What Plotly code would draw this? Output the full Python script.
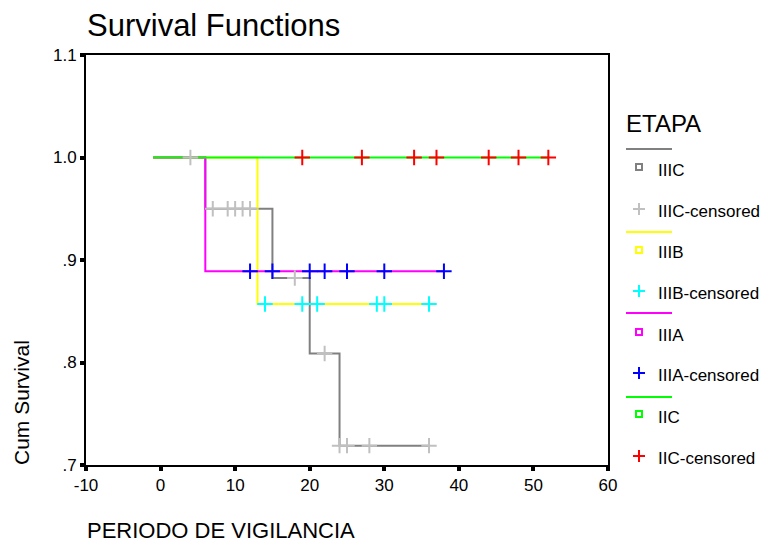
import numpy as np
import plotly.graph_objects as go

# ---------------- data ----------------
groups = ["IIIC", "IIIB", "IIIA", "IIC"]

# step survival curves (time of each step, survival after the step)
iiic_times = [-1, 6, 15, 20, 24, 36]
iiic_surv = [1.0, 0.95, 0.8824, 0.8088, 0.7189, 0.7189]
iiic_cens = [4, 7, 9, 10, 11, 12, 18, 22, 24, 25, 28, 36]

iiib_times = [-1, 13, 36]
iiib_surv = [1.0, 0.857, 0.857]
iiib_cens = [14, 19, 21, 29, 30, 36]

iiia_times = [-1, 6, 38]
iiia_surv = [1.0, 0.889, 0.889]
iiia_cens = [12, 15, 20, 22, 25, 30, 38]

iic_times = [-1, 52]
iic_surv = [1.0, 1.0]
iic_cens = [19, 27, 34, 37, 44, 48, 52]

x_ticks = [-10, 0, 10, 20, 30, 40, 50, 60]
y_ticks = [0.7, 0.8, 0.9, 1.0, 1.1]
y_ticktext = [".7", ".8", ".9", "1.0", "1.1"]

line_colors = ["#808080", "#ffff00", "#ff00ff", "#00ff00"]
cens_colors = ["#c0c0c0", "#00ffff", "#0000ff", "#ff0000"]

series = [
    (iiic_times, iiic_surv, iiic_cens),
    (iiib_times, iiib_surv, iiib_cens),
    (iiia_times, iiia_surv, iiia_cens),
    (iic_times, iic_surv, iic_cens),
]

FONT = "Arial, Liberation Sans, Helvetica, sans-serif"
OFF = 8                      # browser default page margin (each side)
W, H = 770 - 2 * OFF, 551 - 2 * OFF


def surv_at(times, surv, t):
    idx = np.searchsorted(np.asarray(times), t, side="right") - 1
    return float(np.asarray(surv)[idx])


fig = go.Figure()

for (times, surv, cens), lc in zip(series, line_colors):
    fig.add_trace(go.Scatter(x=times, y=surv, mode="lines",
                             line=dict(color=lc, width=2, shape="hv"),
                             showlegend=False, hoverinfo="skip"))
for (times, surv, cens), cc in zip(series, cens_colors):
    fig.add_trace(go.Scatter(x=cens, y=[surv_at(times, surv, t) for t in cens],
                             mode="markers",
                             marker=dict(symbol="cross-thin", size=11, color=cc,
                                         line=dict(color=cc, width=2)),
                             showlegend=False, hoverinfo="skip"))


def px(xpix):
    return (xpix - OFF) / W


def py(ypix):
    return 1 - (ypix - OFF) / H


# ---------------- manual legend ----------------
shapes = []
annotations = []
LX0, LX1, LXM, LXT = 626, 672, 639, 656

annotations.append(dict(x=px(LX0 - 2), y=py(124), xref="paper", yref="paper",
                        text="ETAPA", showarrow=False, xanchor="left", yanchor="middle",
                        font=dict(family=FONT, size=24, color="black")))
line_y = [149, 232, 313, 397]
sq_y = [167, 250, 332, 414]
cr_y = [209, 291, 373, 456]
for i, g in enumerate(groups):
    shapes.append(dict(type="line", xref="paper", yref="paper",
                       x0=px(LX0), x1=px(LX1), y0=py(line_y[i]), y1=py(line_y[i]),
                       line=dict(color=line_colors[i], width=2)))
    # hollow square symbol
    shapes.append(dict(type="rect", xref="paper", yref="paper",
                       x0=px(LXM - 3), x1=px(LXM + 3),
                       y0=py(sq_y[i] + 3), y1=py(sq_y[i] - 3),
                       line=dict(color=line_colors[i], width=2)))
    # plus symbol
    shapes.append(dict(type="line", xref="paper", yref="paper",
                       x0=px(LXM - 6), x1=px(LXM + 6), y0=py(cr_y[i]), y1=py(cr_y[i]),
                       line=dict(color=cens_colors[i], width=2)))
    shapes.append(dict(type="line", xref="paper", yref="paper",
                       x0=px(LXM), x1=px(LXM), y0=py(cr_y[i] - 6), y1=py(cr_y[i] + 6),
                       line=dict(color=cens_colors[i], width=2)))
    annotations.append(dict(x=px(LXT), y=py(sq_y[i] + 3), xref="paper", yref="paper",
                            text=g, showarrow=False, xanchor="left", yanchor="middle",
                            font=dict(family=FONT, size=17, color="black")))
    annotations.append(dict(x=px(LXT), y=py(cr_y[i] + 2), xref="paper", yref="paper",
                            text=g + "-censored", showarrow=False, xanchor="left",
                            yanchor="middle",
                            font=dict(family=FONT, size=17, color="black")))

annotations.append(dict(x=px(85), y=py(25), xref="paper", yref="paper",
                        text="Survival Functions", showarrow=False, xanchor="left",
                        yanchor="middle", font=dict(family=FONT, size=31, color="black")))
annotations.append(dict(x=px(85), y=py(530), xref="paper", yref="paper",
                        text="PERIODO DE VIGILANCIA", showarrow=False, xanchor="left",
                        yanchor="middle", font=dict(family=FONT, size=22, color="black")))
annotations.append(dict(x=px(21), y=py(403), xref="paper", yref="paper",
                        text="Cum Survival", showarrow=False, textangle=-90,
                        xanchor="center", yanchor="middle",
                        font=dict(family=FONT, size=21, color="black")))

fig.update_layout(
    width=W, height=H,
    margin=dict(l=0, r=0, t=0, b=0, autoexpand=False),
    paper_bgcolor="white", plot_bgcolor="white",
    showlegend=False,
    shapes=shapes,
    annotations=annotations,
    xaxis=dict(domain=[px(86), px(608)], range=[-10, 60], tickvals=x_ticks,
               ticktext=[str(v) for v in x_ticks], automargin=False,
               showgrid=False, zeroline=False, showline=True, linecolor="black",
               linewidth=2, mirror=True, ticks="outside", ticklen=4, tickwidth=4,
               tickcolor="black", tickfont=dict(family=FONT, size=17, color="black")),
    yaxis=dict(domain=[py(465), py(55)], range=[0.7, 1.1], tickvals=y_ticks,
               ticktext=y_ticktext, automargin=False,
               showgrid=False, zeroline=False, showline=True, linecolor="black",
               linewidth=2, mirror=True, ticks="outside", ticklen=4, tickwidth=4,
               tickcolor="black", tickfont=dict(family=FONT, size=17, color="black")),
)

fig.write_html("out.html")
